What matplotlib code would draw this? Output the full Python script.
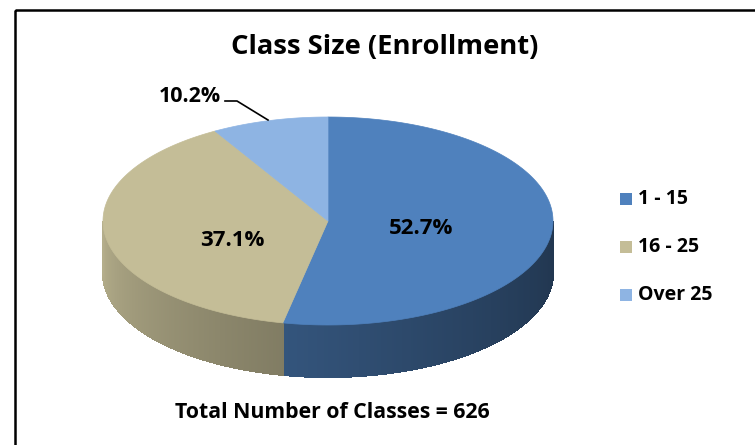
import numpy as np
import matplotlib.pyplot as plt
from matplotlib.patches import Polygon, Rectangle

labels = ["1 - 15", "16 - 25", "Over 25"]
shares = [52.7, 37.1, 10.2]
top_colors = ["#4F81BD", "#C4BD97", "#8EB4E3"]
title = "Class Size (Enrollment)"
footer = "Total Number of Classes = 626"

plt.rcParams['font.family'] = ['Open Sans', 'DejaVu Sans']

# pie geometry in pixel units
cx, cy = 328, 221
a, b = 225, 104
depth = 52


def warp(phi):
    # a bit of perspective: back slices look squeezed
    return phi - 11 * np.sin(np.radians(phi))


def pt(phi):
    # phi in degrees, clockwise from 12 o'clock
    r = np.radians(warp(phi))
    return cx + a * np.sin(r), cy - b * np.cos(r)


def shade(hexcol, psi):
    t = np.clip((psi - 90) / 180.0, 0, 1)
    f = 0.42 + 0.50 * t ** 1.3
    c = np.array([int(hexcol[i:i + 2], 16) for i in (1, 3, 5)]) / 255.0
    return tuple(c * f)


fig = plt.figure(figsize=(7.55, 4.45), dpi=100)
ax = fig.add_axes([0, 0, 1, 1])
ax.set_xlim(0, 755)
ax.set_ylim(445, 0)
ax.axis("off")

ax.add_patch(Rectangle((15, 10), 900, 600, fill=False, ec="black", lw=1.8))

bounds = np.concatenate([[0], np.cumsum(shares) / sum(shares) * 360])

# side walls (visible front half only)
for i in range(len(shares)):
    phis = np.linspace(bounds[i], bounds[i + 1], 400)
    psis = warp(phis)
    keep = (psis >= 90) & (psis <= 270)
    phis = phis[keep]
    for p0, p1 in zip(phis[:-1], phis[1:]):
        x0, y0 = pt(p0)
        x1, y1 = pt(p1)
        col = shade(top_colors[i], warp((p0 + p1) / 2))
        quad = [(x0, y0), (x1, y1), (x1, y1 + depth), (x0, y0 + depth)]
        ax.add_patch(Polygon(quad, closed=True, fc=col, ec=col, lw=0.8, antialiased=False))

# top faces
for i in range(len(shares)):
    phis = np.linspace(bounds[i], bounds[i + 1], 200)
    xs, ys = pt(phis)
    verts = [(cx, cy)] + list(zip(xs, ys))
    ax.add_patch(Polygon(verts, closed=True, fc=top_colors[i], ec=top_colors[i], lw=0.5))

ax.text(385, 47, title, ha="center", va="center", fontsize=19.7, fontweight="bold")
ax.text(332, 412, footer, ha="center", va="center", fontsize=15.3, fontweight="bold")

ax.text(421, 228, f"{shares[0]}%", ha="center", va="center", fontsize=16, fontweight="bold")
ax.text(232, 241, f"{shares[1]}%", ha="center", va="center", fontsize=16, fontweight="bold")
ax.text(190, 97, f"{shares[2]}%", ha="center", va="center", fontsize=15.5, fontweight="bold")
ax.plot([225, 237, 268], [101, 101, 120], color="black", lw=1.2)

for k, (lab, col) in enumerate(zip(labels, top_colors)):
    y = 199 + k * 48
    ax.add_patch(Rectangle((620, y - 6), 12, 12, fc=col, ec="none"))
    ax.text(638, y, lab, ha="left", va="center", fontsize=14, fontweight="bold")

fig.savefig("out.png", dpi=100)
